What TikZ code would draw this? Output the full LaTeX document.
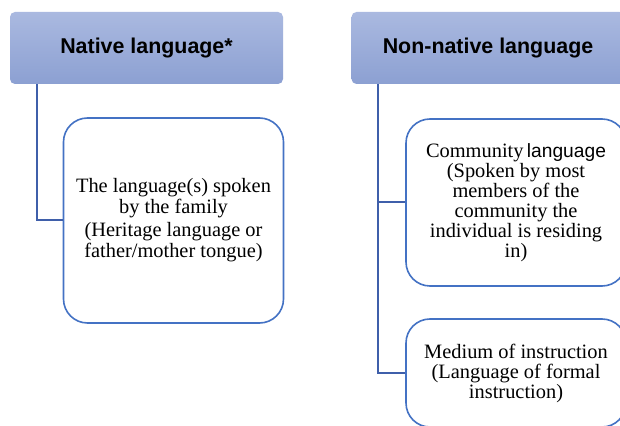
\documentclass[tikz,border=0pt]{standalone}
\usepackage{fontspec}
\setmainfont{Liberation Serif}
\setsansfont{Liberation Sans}
\usepackage{tikz}

\definecolor{headtop}{RGB}{170,185,224}
\definecolor{headbot}{RGB}{140,160,210}
\definecolor{boxline}{RGB}{68,114,196}
\definecolor{linkline}{RGB}{63,95,170}

\tikzset{
    head/.style={rounded corners=2.5pt, top color=headtop, bottom color=headbot,
        minimum width=136.5pt, minimum height=36pt,
        font=\sffamily\bfseries\fontsize{10.7}{12}\selectfont},
    leaf/.style={draw=boxline, line width=0.8pt, fill=white, rounded corners=12pt,
        minimum width=110pt, align=center,
        font=\fontsize{10.2}{10}\selectfont},
    link/.style={draw=linkline, line width=1pt}
}

\begin{document}
\begin{tikzpicture}[x=0.5pt, y=-0.5pt]

        \clip (0,0) rectangle (620,426);
        \fill[white] (0,0) rectangle (620,426);

        \node[head] (nat) at (146.5,48) {Native language*};

        \node[head] (nonnat) at (488,48) {Non-native language};

        \node[leaf, minimum height=102.5pt, font=\fontsize{10.2}{10.5}\selectfont]
            (family) at (173.5,220.5)
            {The language(s) spoken\\ by the family\\[1pt]
             (Heritage language or\\ father/mother tongue)};

        \node[leaf, minimum height=83.5pt]
            (community) at (516,202.5)
            {Community\,{\sffamily\fontsize{9.6}{10}\selectfont language}\\ (Spoken by most\\
             members of the\\ community the\\ individual is residing\\ in)};

        \node[leaf, minimum height=54pt]
            (medium) at (516,373)
            {Medium of instruction\\ (Language of formal\\ instruction)};

        \draw[link]
            ([xshift=13.5pt]nat.south west) |- (family.west);

        \draw[link]
            ([xshift=13.5pt]nonnat.south west) |- (community.west)
            ([xshift=13.5pt]nonnat.south west) |- (medium.west);

\end{tikzpicture}
\end{document}
